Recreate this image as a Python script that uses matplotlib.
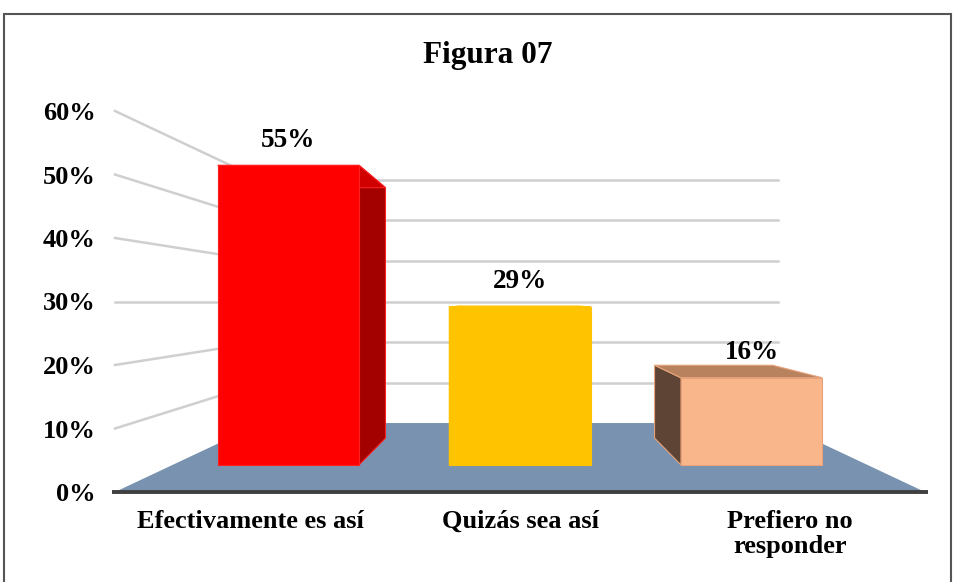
import matplotlib.pyplot as plt
from matplotlib.patches import Polygon, Rectangle

plt.rcParams['font.family'] = ['Liberation Serif', 'DejaVu Serif']
plt.rcParams['font.weight'] = 'bold'

# datos
categorias = ['Efectivamente es así', 'Quizás sea así', 'Prefiero no\nresponder']
valores = [55, 29, 16]
etiquetas = ['55%', '29%', '16%']
ticks_y = [0, 10, 20, 30, 40, 50, 60]
col_frente = ['#FF0000', '#FFC300', '#F9B68B']
col_lado = ['#A30000', '#C99700', '#5E4434']
col_tope = ['#D00000', '#E0AE00', '#B9825F']
col_borde = ['#FF2020', '#FFC300', '#E8A27A']

# perspectiva (punto de fuga en el centro, a la altura de 30%)
VX, VY = 1.5, 30.0
S_FRENTE, S_FONDO, S_PARED = 0.858, 0.717, 0.638
ANCHO = 0.61


def P(x, y, s):
    return (VX + (x - VX) * s, VY + (y - VY) * s)


fig = plt.figure(figsize=(9.55, 5.82), dpi=100)
ax = fig.add_axes([115 / 955, (582 - 492) / 582, 810 / 955, 381 / 582])
ax.set_xlim(0, len(categorias))
ax.set_ylim(0, 60)
for sp in ax.spines.values():
    sp.set_visible(False)

# marco exterior
fig.patches.append(Rectangle((4 / 955, -0.05), 947 / 955, 1.05 - 14 / 582,
                             transform=fig.transFigure, fill=False,
                             edgecolor='#555555', lw=1.5))

gris = '#CFCFCF'
# lineas de la pared izquierda y del fondo
for t in ticks_y[1:]:
    a = P(0, t, 1)
    b = P(0, t, S_PARED)
    c = P(len(categorias), t, S_PARED)
    ax.plot([a[0], b[0]], [a[1], b[1]], color=gris, lw=1.8, zorder=1, clip_on=False)
    ax.plot([b[0], c[0]], [b[1], c[1]], color=gris, lw=1.8, zorder=1, clip_on=False)

# piso
piso = [P(0, 0, 1), P(len(categorias), 0, 1),
        P(len(categorias), 0, S_PARED), P(0, 0, S_PARED)]
ax.add_patch(Polygon(piso, closed=True, facecolor='#7892B0', edgecolor='none',
                     zorder=2, clip_on=False))
ax.plot([-0.01, len(categorias) + 0.01], [0, 0], color='#3F3F3F', lw=2.8,
        zorder=3, clip_on=False, solid_capstyle='butt')

# barras
for i, v in enumerate(valores):
    xc = i + 0.5
    x0, x1 = xc - ANCHO / 2, xc + ANCHO / 2
    caras = []
    # lado visible (hacia el punto de fuga)
    xl = x1 if xc < VX else x0
    caras.append(([P(xl, 0, S_FRENTE), P(xl, 0, S_FONDO),
                   P(xl, v, S_FONDO), P(xl, v, S_FRENTE)], col_lado[i]))
    # tope
    caras.append(([P(x0, v, S_FRENTE), P(x1, v, S_FRENTE),
                   P(x1, v, S_FONDO), P(x0, v, S_FONDO)], col_tope[i]))
    # frente
    caras.append(([P(x0, 0, S_FRENTE), P(x1, 0, S_FRENTE),
                   P(x1, v, S_FRENTE), P(x0, v, S_FRENTE)], col_frente[i]))
    for k, (pts, c) in enumerate(caras):
        ax.add_patch(Polygon(pts, closed=True, facecolor=c, edgecolor=col_borde[i],
                             lw=0.8, zorder=4 + k, clip_on=False))
    tx, ty = P(xc, v, S_FRENTE)
    ax.annotate(etiquetas[i], (tx, ty), xytext=(0, 18), textcoords='offset points',
                ha='center', va='center', fontsize=19.5, fontweight='bold', zorder=10)

ax.set_yticks(ticks_y)
ax.set_yticklabels([f'{t}%' for t in ticks_y], fontsize=19, fontweight='bold')
ax.set_xticks([i + 0.5 for i in range(len(categorias))])
ax.set_xticklabels(categorias, fontsize=19, fontweight='bold', linespacing=1.12)
ax.tick_params(axis='y', length=0, pad=14)
ax.tick_params(axis='x', length=0, pad=13)
ax.patch.set_visible(False)

fig.text(488 / 955, 1 - 55 / 582, 'Figura 07', ha='center', va='center',
         fontsize=22.5, fontweight='bold')

fig.savefig('out.png', dpi=100)
